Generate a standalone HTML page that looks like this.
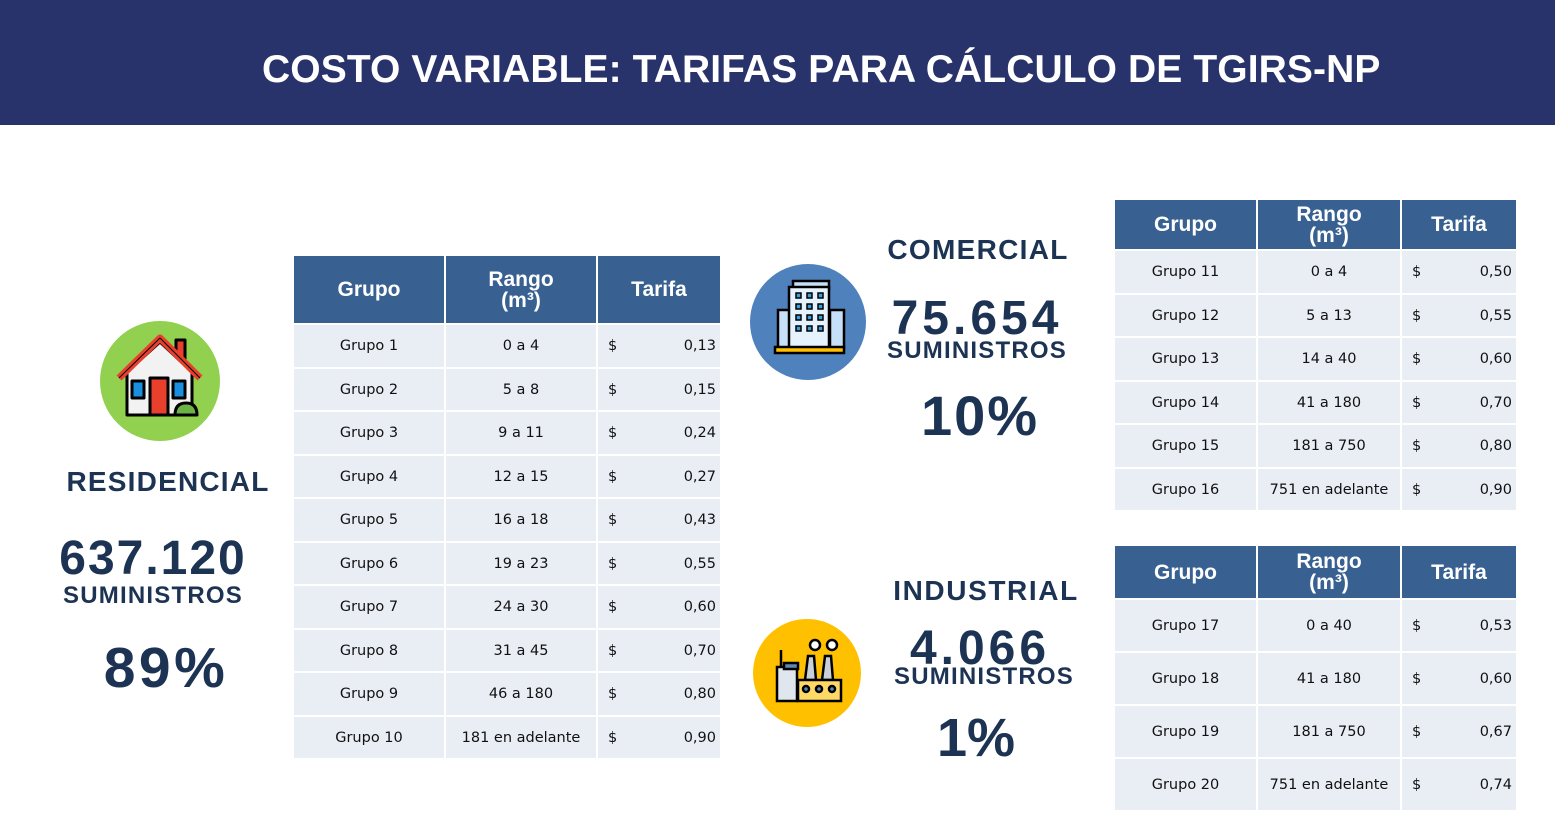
<!DOCTYPE html>
<html><head><meta charset="utf-8"><style>
body{margin:0;width:1555px;height:827px;background:#fff;position:relative;overflow:hidden;font-family:"Liberation Sans",sans-serif}
.hdr{position:absolute;left:0;top:0;width:1555px;height:125px;background:#29336b}
.title{position:absolute;left:262px;top:48px;color:#fff;font-weight:bold;font-size:39px;white-space:nowrap;letter-spacing:0.1px}
.t{position:absolute;border-collapse:collapse;font-family:"DejaVu Sans",sans-serif;font-size:14.5px;color:#111}
.t td,.t th{border:2px solid #fff;padding:0;text-align:center}
.t th{background:#386192;color:#fff;font-family:"Liberation Sans",sans-serif;font-weight:bold;font-size:21px;line-height:21px}
.t td{background:#e9eef5}
.t td.p{position:relative;text-align:right;padding-right:4px}
.t td.p span{position:absolute;left:10px}
.k{position:absolute;color:#1c3353;font-weight:bold;white-space:nowrap;transform:translateX(-50%);line-height:1}
</style></head><body>
<div class="hdr"></div>
<div class="title">COSTO VARIABLE: TARIFAS PARA CÁLCULO DE TGIRS-NP</div>

<svg style="position:absolute;left:0;top:0" width="1555" height="827">
<circle cx="160" cy="381" r="60" fill="#92d050"/>
<g stroke="#000" stroke-width="3" stroke-linejoin="round">
<rect x="176" y="340" width="9" height="22" fill="#e8402c"/>
<polygon points="127,372 160,342 192,372 192,415 127,415" fill="#f2f2f2"/>
<polyline points="119,378 160,338 200,378" fill="none" stroke="#e8402c" stroke-width="7"/>
<polyline points="119,378 160,338 200,378" fill="none" stroke-width="1"/>
<rect x="132" y="381" width="12" height="17" fill="#1a8fe0"/>
<rect x="173" y="381" width="12" height="17" fill="#1a8fe0"/>
<rect x="150" y="378" width="18" height="37" fill="#e8402c"/>
<path d="M175 415 q0-12 11-12 q11 0 11 12z" fill="#6ab344"/>
</g>
<circle cx="808" cy="322" r="58" fill="#4f81bd"/>
<g stroke="#000" stroke-width="2.5">
<rect x="778" y="310" width="14" height="38" fill="#c5e0f8"/>
<rect x="830" y="310" width="14" height="38" fill="#c5e0f8"/>
<rect x="793" y="281" width="36" height="8" fill="#c5e0f8"/>
<rect x="789" y="287" width="40" height="62" fill="#e6f2fd"/>
<rect x="775" y="347" width="69" height="6" fill="#ffc000"/>
</g>
<g fill="#3aa0dc" stroke="#000" stroke-width="1.5">
<rect x="796" y="293" width="5" height="5"/><rect x="807" y="293" width="5" height="5"/><rect x="818" y="293" width="5" height="5"/>
<rect x="796" y="304" width="5" height="5"/><rect x="807" y="304" width="5" height="5"/><rect x="818" y="304" width="5" height="5"/>
<rect x="796" y="315" width="5" height="5"/><rect x="807" y="315" width="5" height="5"/><rect x="818" y="315" width="5" height="5"/>
<rect x="796" y="326" width="5" height="5"/><rect x="807" y="326" width="5" height="5"/><rect x="818" y="326" width="5" height="5"/>
</g>
<circle cx="807" cy="673" r="54" fill="#ffc000"/>
<g stroke="#000" stroke-width="2.5">
<line x1="781" y1="650" x2="781" y2="670"/>
<rect x="777" y="667" width="20" height="34" fill="#dfe6ee"/>
<rect x="784" y="663" width="14" height="6" fill="#5b8ab0"/>
<polygon points="805,680 808,656 814,656 816,680" fill="#c8d0d8"/>
<polygon points="822,680 825,656 831,656 833,680" fill="#c8d0d8"/>
<rect x="798" y="680" width="43" height="21" fill="#ffd966"/>
<circle cx="806" cy="689" r="3" fill="#5b8ab0"/><circle cx="819" cy="689" r="3" fill="#5b8ab0"/><circle cx="832" cy="689" r="3" fill="#5b8ab0"/>
<circle cx="815" cy="645" r="5" fill="#fff"/><circle cx="832" cy="645" r="5" fill="#fff"/>
</g>
</svg>

<div class="k" style="left:168px;top:468px;font-size:28px;letter-spacing:1.2px">RESIDENCIAL</div>
<div class="k" style="left:153px;top:535px;font-size:48px;letter-spacing:2px">637.120</div>
<div class="k" style="left:153px;top:584px;font-size:24px;letter-spacing:1.2px">SUMINISTROS</div>
<div class="k" style="left:166px;top:640px;font-size:57px;letter-spacing:3.5px">89%</div>

<div class="k" style="left:978px;top:236px;font-size:28px;letter-spacing:1.3px">COMERCIAL</div>
<div class="k" style="left:977px;top:295px;font-size:48px;letter-spacing:4px">75.654</div>
<div class="k" style="left:977px;top:339px;font-size:24px;letter-spacing:1.2px">SUMINISTROS</div>
<div class="k" style="left:980px;top:388px;font-size:56px;letter-spacing:2px">10%</div>

<div class="k" style="left:986px;top:577px;font-size:28px;letter-spacing:1.6px">INDUSTRIAL</div>
<div class="k" style="left:980px;top:625px;font-size:48px;letter-spacing:4px">4.066</div>
<div class="k" style="left:984px;top:665px;font-size:24px;letter-spacing:1.2px">SUMINISTROS</div>
<div class="k" style="left:976px;top:711px;font-size:54px">1%</div>

<table class="t" style="left:292px;top:254px;width:430px">
<tr style="height:69px"><th style="width:150px">Grupo</th><th style="width:150px">Rango<br>(m³)</th><th>Tarifa</th></tr>
<tr style="height:44px"><td>Grupo 1</td><td>0 a 4</td><td class="p"><span>$</span>0,13</td></tr>
<tr style="height:43px"><td>Grupo 2</td><td>5 a 8</td><td class="p"><span>$</span>0,15</td></tr>
<tr style="height:44px"><td>Grupo 3</td><td>9 a 11</td><td class="p"><span>$</span>0,24</td></tr>
<tr style="height:43px"><td>Grupo 4</td><td>12 a 15</td><td class="p"><span>$</span>0,27</td></tr>
<tr style="height:44px"><td>Grupo 5</td><td>16 a 18</td><td class="p"><span>$</span>0,43</td></tr>
<tr style="height:43px"><td>Grupo 6</td><td>19 a 23</td><td class="p"><span>$</span>0,55</td></tr>
<tr style="height:44px"><td>Grupo 7</td><td>24 a 30</td><td class="p"><span>$</span>0,60</td></tr>
<tr style="height:43px"><td>Grupo 8</td><td>31 a 45</td><td class="p"><span>$</span>0,70</td></tr>
<tr style="height:44px"><td>Grupo 9</td><td>46 a 180</td><td class="p"><span>$</span>0,80</td></tr>
<tr style="height:43px"><td>Grupo 10</td><td>181 en adelante</td><td class="p"><span>$</span>0,90</td></tr>
</table>

<table class="t" style="left:1113px;top:198px;width:405px">
<tr style="height:51px"><th style="width:141px">Grupo</th><th style="width:142px">Rango<br>(m³)</th><th>Tarifa</th></tr>
<tr style="height:44px"><td>Grupo 11</td><td>0 a 4</td><td class="p"><span>$</span>0,50</td></tr>
<tr style="height:43px"><td>Grupo 12</td><td>5 a 13</td><td class="p"><span>$</span>0,55</td></tr>
<tr style="height:44px"><td>Grupo 13</td><td>14 a 40</td><td class="p"><span>$</span>0,60</td></tr>
<tr style="height:43px"><td>Grupo 14</td><td>41 a 180</td><td class="p"><span>$</span>0,70</td></tr>
<tr style="height:44px"><td>Grupo 15</td><td>181 a 750</td><td class="p"><span>$</span>0,80</td></tr>
<tr style="height:43px"><td>Grupo 16</td><td>751 en adelante</td><td class="p"><span>$</span>0,90</td></tr>
</table>

<table class="t" style="left:1113px;top:544px;width:405px">
<tr style="height:54px"><th style="width:141px">Grupo</th><th style="width:142px">Rango<br>(m³)</th><th>Tarifa</th></tr>
<tr style="height:53px"><td>Grupo 17</td><td>0 a 40</td><td class="p"><span>$</span>0,53</td></tr>
<tr style="height:53px"><td>Grupo 18</td><td>41 a 180</td><td class="p"><span>$</span>0,60</td></tr>
<tr style="height:53px"><td>Grupo 19</td><td>181 a 750</td><td class="p"><span>$</span>0,67</td></tr>
<tr style="height:53px"><td>Grupo 20</td><td>751 en adelante</td><td class="p"><span>$</span>0,74</td></tr>
</table>
</body></html>
